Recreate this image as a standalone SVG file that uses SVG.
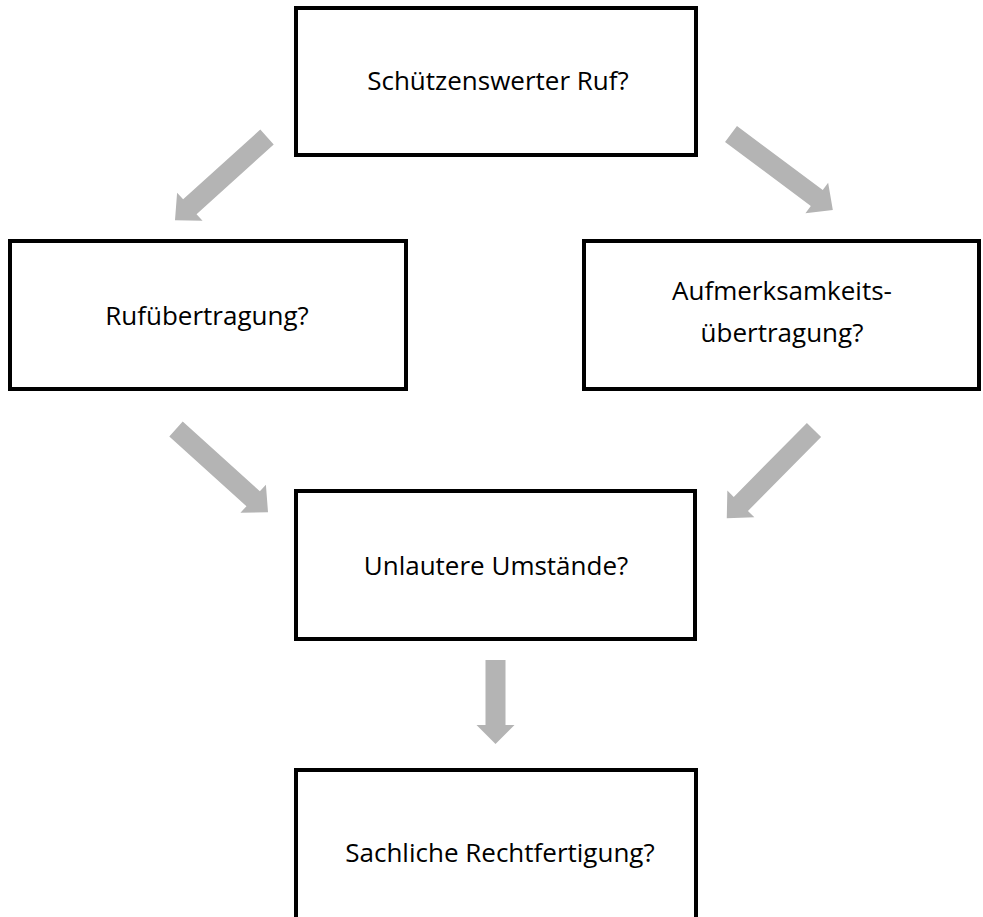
<svg xmlns="http://www.w3.org/2000/svg" width="983" height="917" viewBox="0 0 983 917">
<style>
.box{fill:#fff;stroke:#000;stroke-width:4}
.t{font-family:"Open Sans","Liberation Sans",sans-serif;font-size:26px;fill:#000;text-anchor:middle}
.ar{fill:#b4b4b4}
</style>
<rect width="983" height="917" fill="#fff"/>
<g id="connectors">
<polygon class="ar" transform="translate(267,137) rotate(137.9)" points="0,-10 104,-10 104,-19 124,0 104,19 104,10 0,10"/>
<polygon class="ar" transform="translate(731,134) rotate(36.7)" points="0,-10 107,-10 107,-19 127,0 107,19 107,10 0,10"/>
<polygon class="ar" transform="translate(176,429) rotate(42.1)" points="0,-10 104,-10 104,-19 124,0 104,19 104,10 0,10"/>
<polygon class="ar" transform="translate(814,430) rotate(134.7)" points="0,-10 104,-10 104,-19 124,0 104,19 104,10 0,10"/>
<polygon class="ar" transform="translate(495.5,660) rotate(90)" points="0,-10 65,-10 65,-19 84,0 65,19 65,10 0,10"/>
</g>
<g id="n1"><rect class="box" x="296" y="8" width="400" height="147"/><text class="t" x="498" y="90">Schützenswerter Ruf?</text></g>
<g id="n2"><rect class="box" x="10" y="241" width="396" height="148"/><text class="t" x="207" y="325">Rufübertragung?</text></g>
<g id="n3"><rect class="box" x="584" y="241" width="395" height="148"/><text class="t" x="782" y="300">Aufmerksamkeits-</text><text class="t" x="782" y="342">übertragung?</text></g>
<g id="n4"><rect class="box" x="296" y="491" width="399" height="148"/><text class="t" x="496" y="575">Unlautere Umstände?</text></g>
<g id="n5"><rect class="box" x="296" y="770" width="400" height="160"/><text class="t" x="500" y="862">Sachliche Rechtfertigung?</text></g>
</svg>
